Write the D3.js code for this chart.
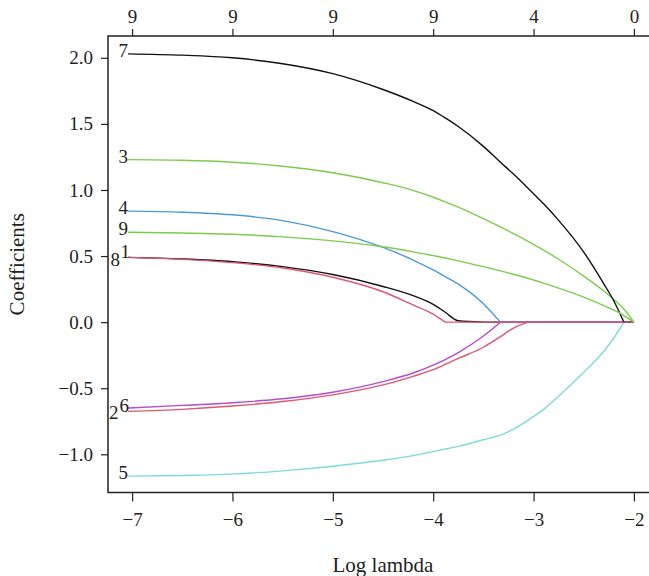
<!DOCTYPE html>
<html>
<head>
<meta charset="utf-8">
<script src="https://cdn.jsdelivr.net/npm/d3@7"></script>
<style>
  body { margin: 0; background: #fff; }
  svg text { font-family: "Liberation Serif", "DejaVu Serif", serif; fill: #222; }
</style>
</head>
<body>
<div id="chart"></div>
<script>
// common log(lambda) grid of the path
var logLambda = [-7.04, -6.5, -6.0, -5.5, -5.0, -4.5, -4.2, -4.0, -3.88, -3.75, -3.5, -3.33, -3.2, -3.05, -2.9, -2.75, -2.5, -2.3, -2.2, -2.1, -2.0];

// coefficient paths, one per variable
var coef1 = [0.49, 0.478, 0.458, 0.42, 0.36, 0.27, 0.20, 0.135, 0.075, 0.01, 0, 0, 0, 0, 0, 0, 0, 0, 0, 0, 0];
var coef2 = [-0.675, -0.66, -0.635, -0.60, -0.55, -0.475, -0.41, -0.36, -0.32, -0.275, -0.19, -0.11, -0.045, 0, 0, 0, 0, 0, 0, 0, 0];
var coef3 = [1.23, 1.225, 1.21, 1.18, 1.13, 1.055, 0.997, 0.945, 0.91, 0.87, 0.783, 0.72, 0.67, 0.61, 0.545, 0.476, 0.348, 0.235, 0.172, 0.10, 0];
var coef4 = [0.84, 0.832, 0.812, 0.768, 0.685, 0.565, 0.47, 0.395, 0.345, 0.288, 0.14, 0, 0, 0, 0, 0, 0, 0, 0, 0, 0];
var coef5 = [-1.165, -1.16, -1.15, -1.125, -1.09, -1.045, -1.01, -0.98, -0.96, -0.94, -0.89, -0.855, -0.81, -0.74, -0.66, -0.56, -0.38, -0.22, -0.12, 0, 0];
var coef6 = [-0.65, -0.63, -0.61, -0.58, -0.53, -0.45, -0.385, -0.325, -0.283, -0.23, -0.105, 0, 0, 0, 0, 0, 0, 0, 0, 0, 0];
var coef7 = [2.03, 2.02, 2.00, 1.955, 1.88, 1.76, 1.67, 1.60, 1.545, 1.48, 1.33, 1.21, 1.12, 1.01, 0.895, 0.77, 0.53, 0.29, 0.16, 0, 0];
var coef8 = [0.49, 0.475, 0.45, 0.41, 0.34, 0.23, 0.13, 0.06, 0, 0, 0, 0, 0, 0, 0, 0, 0, 0, 0, 0, 0];
var coef9 = [0.68, 0.675, 0.665, 0.645, 0.615, 0.57, 0.532, 0.503, 0.485, 0.464, 0.42, 0.388, 0.362, 0.33, 0.295, 0.258, 0.19, 0.125, 0.09, 0.05, 0];

var varNames = ["1", "2", "3", "4", "5", "6", "7", "8", "9"];
var paths = [coef1, coef2, coef3, coef4, coef5, coef6, coef7, coef8, coef9];

// axes
var xTicks = [-7, -6, -5, -4, -3, -2];
var yTicks = [-1.0, -0.5, 0.0, 0.5, 1.0, 1.5, 2.0];
var dfLabels = ["9", "9", "9", "9", "4", "0"];   // nonzero count on top axis

// R default palette, cycled 1:6
var colors = ["#111111", "#e0566e", "#7acc4c", "#4a9ad8", "#7dd9de", "#b84cc4"];

// label nudges so overlapping numbers sit like the original
var labelNudge = { "1": [2, -2], "8": [-8, 6], "6": [1, 1], "2": [-9.5, 5] };

var width = 649, height = 576;
var margin = {top: 36, right: -5, bottom: 83.5, left: 108};
var innerW = width - margin.left - margin.right,
    innerH = height - margin.top - margin.bottom;

var svg = d3.select("#chart")
  .append("svg")
    .attr("width", width)
    .attr("height", height)
  .append("g")
    .attr("transform", "translate(" + margin.left + "," + margin.top + ")");

var x = d3.scaleLinear()
  .domain([-7.24, -1.80])
  .range([0, innerW]);

var y = d3.scaleLinear()
  .domain([-1.289, 2.165])
  .range([innerH, 0]);

// bottom axis
var xAxis = svg.append("g")
  .attr("transform", "translate(0," + innerH + ")")
  .call(d3.axisBottom(x).tickValues(xTicks).tickSize(9).tickPadding(11).tickFormat(d3.format("d")));

// top axis with df counts
var topAxis = svg.append("g")
  .call(d3.axisTop(x).tickValues(xTicks).tickSize(7).tickPadding(6)
    .tickFormat(function(d, i) { return dfLabels[i]; }));

// left axis
var yAxis = svg.append("g")
  .call(d3.axisLeft(y).tickValues(yTicks).tickSize(7).tickPadding(8).tickFormat(d3.format(".1f")));

[xAxis, topAxis, yAxis].forEach(function(a) {
  a.select(".domain").remove();
  a.selectAll("line").attr("stroke", "#222").attr("stroke-width", 1.2);
  a.selectAll("text").style("font-size", "19px").attr("fill", "#222");
});

// box
svg.append("rect")
  .attr("x", 0).attr("y", 0)
  .attr("width", innerW).attr("height", innerH)
  .attr("fill", "none")
  .attr("stroke", "#222")
  .attr("stroke-width", 1.5);

// coefficient lines: smooth part, then a straight zero tail so the
// drop-out point keeps its corner
var smooth = d3.line()
  .x(function(d) { return x(d[0]); })
  .y(function(d) { return y(d[1]); })
  .curve(d3.curveMonotoneX);
var straight = d3.line()
  .x(function(d) { return x(d[0]); })
  .y(function(d) { return y(d[1]); });

function pathD(vals) {
  var pts = vals.map(function(v, i) { return [logLambda[i], v]; });
  var k = pts.length - 1;
  while (k > 0 && pts[k - 1][1] === 0) k--;
  var d = smooth(pts.slice(0, k + 1));
  if (k < pts.length - 1) d += straight(pts.slice(k)).replace(/^M/, "L");
  return d;
}

svg.selectAll(".coef")
  .data(paths)
  .enter()
  .append("path")
    .attr("class", "coef")
    .attr("d", pathD)
    .attr("fill", "none")
    .attr("stroke", function(d, i) { return colors[i % 6]; })
    .attr("stroke-width", 1.4);

// variable labels at the left end of each path
svg.selectAll(".vlab")
  .data(paths)
  .enter()
  .append("text")
    .attr("class", "vlab")
    .attr("x", function(d, i) { var n = labelNudge[varNames[i]]; return x(logLambda[0]) + (n ? n[0] : 0); })
    .attr("y", function(d, i) { var n = labelNudge[varNames[i]]; return y(d[0]) + 3 + (n ? n[1] : 0); })
    .attr("text-anchor", "end")
    .style("font-size", "19px")
    .text(function(d, i) { return varNames[i]; });

// axis titles
svg.append("text")
  .attr("x", x(-4.5))
  .attr("y", innerH + 79)
  .attr("text-anchor", "middle")
  .style("font-size", "21px")
  .text("Log lambda");

svg.append("text")
  .attr("transform", "translate(" + (-84) + "," + (innerH / 2) + ") rotate(-90)")
  .attr("text-anchor", "middle")
  .style("font-size", "21px")
  .text("Coefficients");
</script>
</body>
</html>
